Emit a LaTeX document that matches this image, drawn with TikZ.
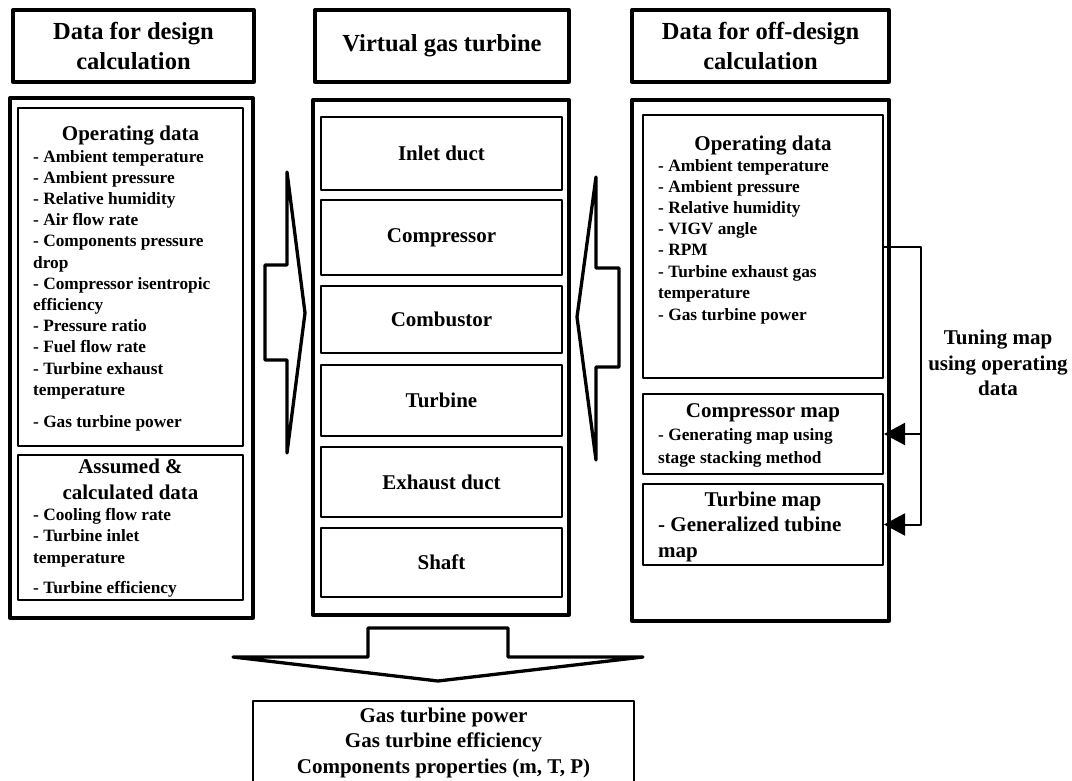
\documentclass[tikz,border=0pt]{standalone}
\usepackage{fontspec}
\setmainfont{Liberation Serif}
\usetikzlibrary{arrows.meta}
\newcommand\bx[6]{\node[#6, inner sep=0pt, minimum width={#4-#2}, minimum height={#5-#3}] (#1) at ({(#2+#4)/2},{(#3+#5)/2}) {};}
\begin{document}
\begin{tikzpicture}[x=1pt,y=-1pt, line join=round,
  heavy/.style={draw, line width=3.3pt},
  inbox/.style={draw, line width=2pt},
  ttl/.style={font=\fontsize{24.5}{30}\selectfont\bfseries, align=center},
  sec/.style={font=\fontsize{21}{25.5}\selectfont\bfseries, align=center},
  secb/.style={font=\fontsize{21}{25.5}\selectfont\bfseries, anchor=base, inner sep=0pt},
  secw/.style={font=\fontsize{21}{25.5}\selectfont\bfseries, anchor=base west, inner sep=0pt},
  itm/.style={font=\fontsize{17.3}{21}\selectfont\bfseries, anchor=base west, inner sep=0pt},
  arrowline/.style={draw, line width=3.3pt, line join=round},
  fbline/.style={draw, line width=2pt},
  fbtip/.style={-{Triangle[length=21pt, width=22pt]}}
]
\useasboundingbox (0,0) rectangle (1072,780);

% title boxes
\node[heavy, ttl, minimum width=241, minimum height=72] (tL) at (133.5,46) {Data for design\\calculation};
\node[heavy, ttl, minimum width=254, minimum height=72] (tM) at (442,46) {Virtual gas turbine};
\node[heavy, ttl, minimum width=257, minimum height=72] (tR) at (760.5,46) {Data for off-design\\calculation};

% outer boxes
\bx{oL}{10}{98}{253}{618}{heavy}
\bx{oM}{313}{100}{569}{615}{heavy}
\bx{oR}{632}{100}{889}{621}{heavy}

% left inner boxes
\bx{opL}{18}{108}{243}{446}{inbox}
\bx{asL}{18}{455}{243}{600}{inbox}

% middle component boxes
\node[inbox, sec, minimum width=241, minimum height=73] (inlet) at (441.5,153.5) {Inlet duct};
\node[inbox, sec, minimum width=241, minimum height=75] (comp) at (441.5,237.5) {Compressor};
\node[inbox, sec, minimum width=241, minimum height=67] (comb) at (441.5,319.5) {Combustor};
\node[inbox, sec, minimum width=241, minimum height=71] (turb) at (441.5,400.5) {Turbine};
\node[inbox, sec, minimum width=241, minimum height=70] (exh) at (441.5,482) {Exhaust duct};
\node[inbox, sec, minimum width=241, minimum height=69] (shaft) at (441.5,562.5) {Shaft};

% right inner boxes
\bx{opR}{643}{115}{883}{378}{inbox}
\bx{cmR}{643}{394}{883}{474}{inbox}
\bx{tmR}{643}{484}{883}{565}{inbox}

% left texts
\node[secb] (lOpT) at (130.5,140) {Operating data};
\foreach \y/\t [count=\i] in {162/- Ambient temperature, 183.2/- Ambient pressure, 204.4/- Relative humidity, 225.6/- Air flow rate, 246.8/- Components pressure, 268/drop, 289.2/- Compressor isentropic, 310.4/efficiency, 331.6/- Pressure ratio, 352.8/- Fuel flow rate, 374/- Turbine exhaust, 395.2/temperature, 427/- Gas turbine power}
  \node[itm] (lOp\i) at (33,\y) {\t};
\node[secb] (lAsT1) at (130.5,473) {Assumed \&};
\node[secb] (lAsT2) at (130.5,499) {calculated data};
\foreach \y/\t [count=\i] in {520/- Cooling flow rate, 541/- Turbine inlet, 563/temperature, 593/- Turbine efficiency}
  \node[itm] (lAs\i) at (33,\y) {\t};

% right texts
\node[secb] (rOpT) at (763,150) {Operating data};
\foreach \y/\t [count=\i] in {171/- Ambient temperature, 192/- Ambient pressure, 213/- Relative humidity, 234/- VIGV angle, 255/- RPM, 277/- Turbine exhaust gas, 298/temperature, 320/- Gas turbine power}
  \node[itm] (rOp\i) at (658,\y) {\t};
\node[secb] (rCmT) at (763,417) {Compressor map};
\node[itm] (rCm1) at (658,440) {- Generating map using};
\node[itm] (rCm2) at (658,463) {stage stacking method};
\node[secb] (rTmT) at (763,506) {Turbine map};
\node[secw] (rTm1) at (658,531) {- Generalized tubine};
\node[secw] (rTm2) at (658,557) {map};

% block arrows
\draw[arrowline] (287,172) -- (305,313) -- (287,453) -- (287,360) -- (265,360) -- (265,265) -- (287,265) -- cycle;
\draw[arrowline] (596,177) -- (577,317) -- (596,460) -- (596,367) -- (619,367) -- (619,268) -- (596,268) -- cycle;
\draw[arrowline] (368,628) -- (508,628) -- (508,657) -- (643,657) -- (438,681) -- (233,657) -- (368,657) -- cycle;

% feedback
\coordinate (fbx) at (921,0);
\draw[fbline, fbtip] (opR.east) -| (fbx |- tmR.east) -- (tmR.east);
\draw[fbline, fbtip] (fbx |- cmR.east) -- (cmR.east);
\node[sec] (tune) at (998,363) {Tuning map\\using operating\\data};

% result box
\node[sec, inner sep=0pt] (res) at (443.5,742.5) {Gas turbine power\\Gas turbine efficiency\\Components properties (m, T, P)};
\coordinate (resBL) at (253,781);
\coordinate (resTR) at (634,701);
\draw[line width=2.5pt] (resBL) -- (resBL |- resTR) -- (resTR) -- (resTR |- resBL);
\end{tikzpicture}
\end{document}
